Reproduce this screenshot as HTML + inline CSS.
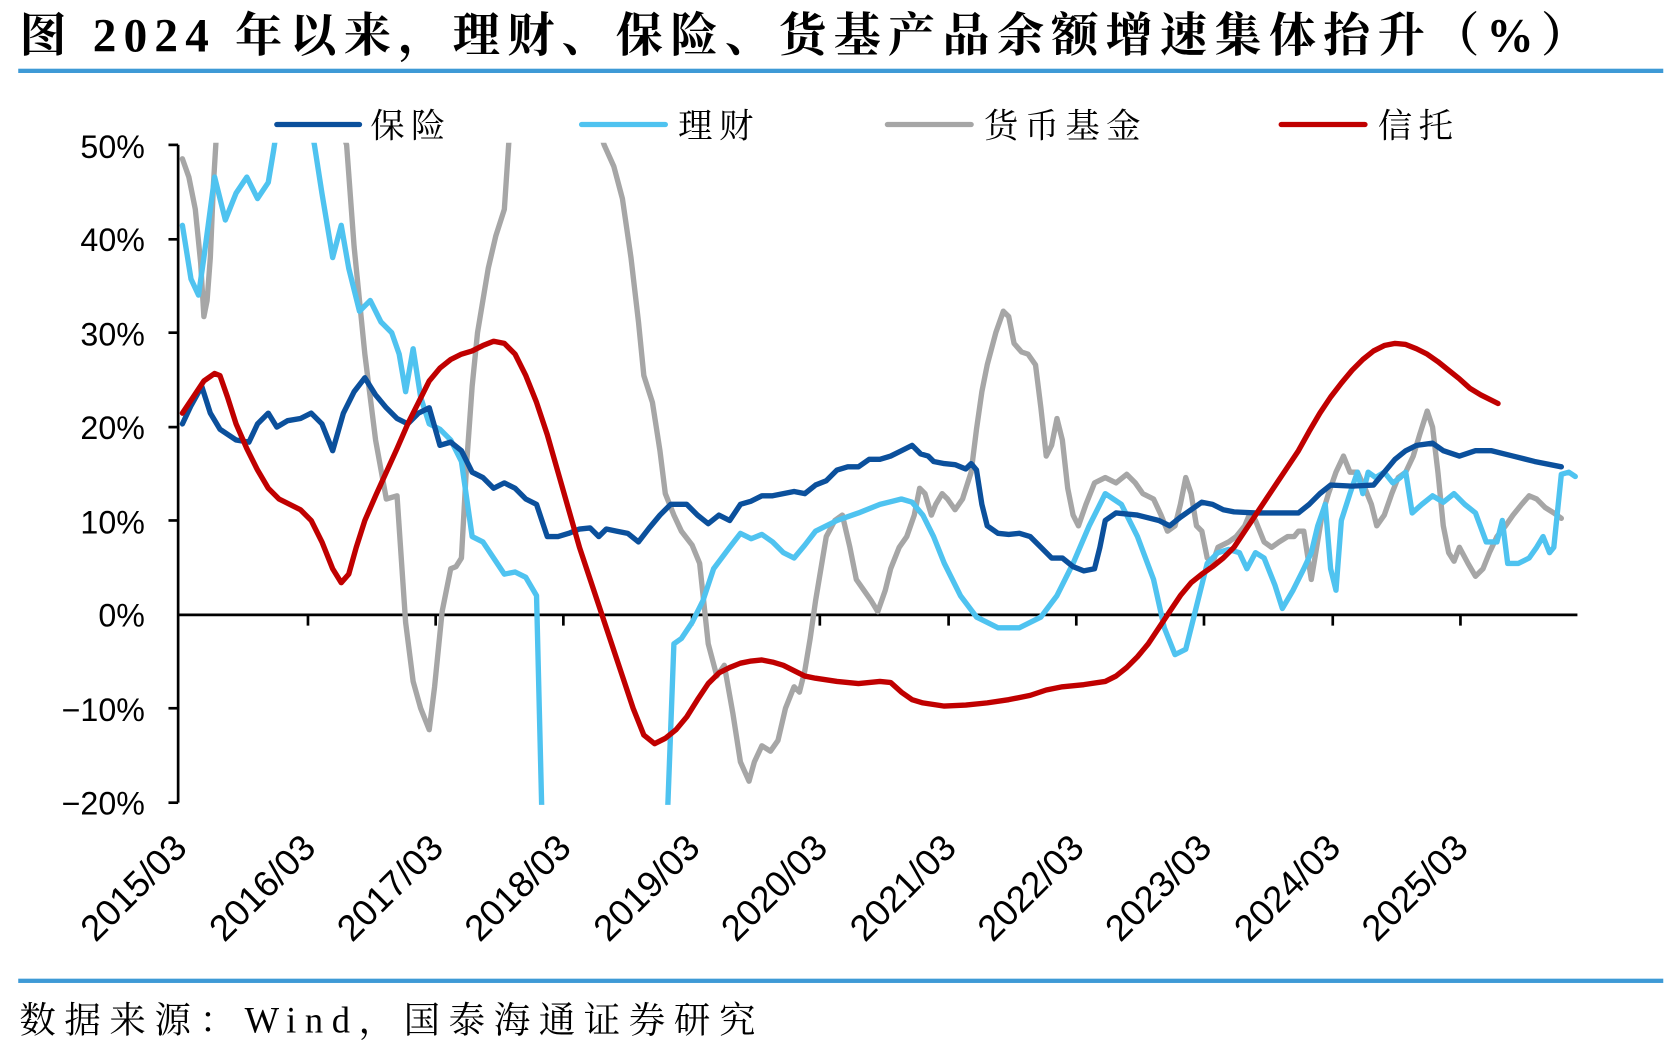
<!DOCTYPE html>
<html><head><meta charset="utf-8"><style>
html,body{margin:0;padding:0;background:#fff;width:1674px;height:1042px;overflow:hidden}
</style></head><body>
<svg width="1674" height="1042" viewBox="0 0 1560 971" xmlns="http://www.w3.org/2000/svg">
<defs><clipPath id="c"><rect x="167" y="133" width="1310" height="617"/></clipPath></defs>
<text x="18" y="48" font-family="'Liberation Serif','Noto Serif CJK SC',serif" font-weight="bold" font-size="44" textLength="1462" lengthAdjust="spacing" fill="#000">图  2024 年以来，理财、保险、货基产品余额增速集体抬升（%）</text>
<rect x="17" y="64" width="1533" height="4" fill="#3e9ad6"/>
<rect x="17" y="912" width="1533" height="4" fill="#3e9ad6"/>
<text x="18" y="962" font-family="'Liberation Serif','Noto Serif CJK SC',serif" font-size="34" textLength="686" lengthAdjust="spacing" fill="#000">数据来源：Wind，国泰海通证券研究</text>
<g font-family="'Liberation Serif','Noto Serif CJK SC',serif" font-size="32" fill="#000">
<line x1="258" y1="116" x2="335" y2="116" stroke="#0b509c" stroke-width="5" stroke-linecap="round"/><text x="345" y="128" letter-spacing="6">保险</text>
<line x1="542" y1="116" x2="620" y2="116" stroke="#4fc3f0" stroke-width="5" stroke-linecap="round"/><text x="632" y="128" letter-spacing="6">理财</text>
<line x1="827" y1="116" x2="905" y2="116" stroke="#a6a6a6" stroke-width="5" stroke-linecap="round"/><text x="917" y="128" letter-spacing="6">货币基金</text>
<line x1="1194" y1="116" x2="1272" y2="116" stroke="#c00000" stroke-width="5" stroke-linecap="round"/><text x="1284" y="128" letter-spacing="6">信托</text>
</g>
<g font-family="'Liberation Sans',sans-serif" font-size="30" fill="#000" text-anchor="end">
<text x="135" y="147">50%</text><text x="135" y="234">40%</text><text x="135" y="322">30%</text><text x="135" y="409">20%</text><text x="135" y="497">10%</text><text x="135" y="584">0%</text><text x="135" y="672">−10%</text><text x="135" y="759">−20%</text>
</g>
<g stroke="#000" stroke-width="2.5" fill="none">
<line x1="166" y1="135" x2="166" y2="748"/>
<line x1="157" y1="135" x2="166" y2="135"/><line x1="157" y1="223" x2="166" y2="223"/><line x1="157" y1="310" x2="166" y2="310"/><line x1="157" y1="398" x2="166" y2="398"/><line x1="157" y1="485" x2="166" y2="485"/><line x1="157" y1="660" x2="166" y2="660"/><line x1="157" y1="748" x2="166" y2="748"/>
<line x1="166" y1="573" x2="1470" y2="573"/>
<line x1="287" y1="573" x2="287" y2="583"/><line x1="406" y1="573" x2="406" y2="583"/><line x1="525" y1="573" x2="525" y2="583"/><line x1="645" y1="573" x2="645" y2="583"/><line x1="764" y1="573" x2="764" y2="583"/><line x1="884" y1="573" x2="884" y2="583"/><line x1="1003" y1="573" x2="1003" y2="583"/><line x1="1122" y1="573" x2="1122" y2="583"/><line x1="1242" y1="573" x2="1242" y2="583"/><line x1="1361" y1="573" x2="1361" y2="583"/>
</g>
<g font-family="'Liberation Sans',sans-serif" font-size="34" fill="#000" text-anchor="end">
<text transform="translate(176,792) rotate(-45)">2015/03</text>
<text transform="translate(296,792) rotate(-45)">2016/03</text>
<text transform="translate(415,792) rotate(-45)">2017/03</text>
<text transform="translate(534,792) rotate(-45)">2018/03</text>
<text transform="translate(654,792) rotate(-45)">2019/03</text>
<text transform="translate(773,792) rotate(-45)">2020/03</text>
<text transform="translate(893,792) rotate(-45)">2021/03</text>
<text transform="translate(1012,792) rotate(-45)">2022/03</text>
<text transform="translate(1131,792) rotate(-45)">2023/03</text>
<text transform="translate(1251,792) rotate(-45)">2024/03</text>
<text transform="translate(1370,792) rotate(-45)">2025/03</text>
</g>
<g clip-path="url(#c)" fill="none" stroke-width="5" stroke-linejoin="round" stroke-linecap="round">
<polyline stroke="#a6a6a6" points="170,148 176,165 182,195 187,245 190,295 193,280 196,240 199,170 202,120"/>
<polyline stroke="#a6a6a6" points="318,120 323,135 330,230 340,330 350,410 360,465 370,462 378,580 385,635 392,660 400,680 405,640 412,570 420,530 425,528 430,520 435,430 440,360 445,310 450,280 455,250 462,220 470,195 475,120"/>
<polyline stroke="#a6a6a6" points="558,120 563,135 572,155 580,185 588,240 595,300 600,350 608,375 615,420 620,460 628,480 635,495 645,508 652,525 660,600 668,630 675,620 683,665 690,710 698,728 703,710 710,695 718,700 725,690 732,660 740,640 745,645 750,625 755,595 760,560 765,530 770,500 778,485 785,480 792,510 798,540 805,550 812,560 818,570 825,550 830,530 838,510 845,500 852,480 857,455 862,460 868,480 872,470 878,460 883,465 890,475 897,465 905,440 910,400 915,365 920,340 928,310 935,290 940,295 945,320 952,328 958,330 965,340 970,380 975,425 980,415 985,390 990,410 995,455 1000,480 1005,490 1012,470 1020,450 1030,445 1040,450 1050,442 1058,450 1065,460 1075,465 1082,480 1088,495 1095,490 1100,470 1105,445 1110,460 1115,490 1120,495 1125,520 1130,525 1135,510 1145,505 1152,500 1160,490 1165,478 1170,485 1178,505 1185,510 1192,505 1200,500 1206,500 1210,495 1215,495 1222,540 1227,510 1232,480 1238,460 1245,440 1252,425 1258,440 1265,440 1272,455 1278,470 1283,490 1290,480 1297,460 1303,445 1310,440 1317,425 1323,405 1330,383 1335,398 1340,440 1345,490 1350,515 1355,523 1360,510 1368,525 1375,537 1382,530 1388,515 1395,500 1403,490 1410,480 1418,470 1425,462 1432,465 1440,473 1448,478 1455,483"/>
<polyline stroke="#4fc3f0" points="170,210 178,260 185,275 190,240 200,165 210,205 220,180 230,165 240,185 250,170 255,140 258,120"/>
<polyline stroke="#4fc3f0" points="290,120 293,135 300,180 310,240 318,210 325,250 335,290 345,280 355,300 365,310 372,330 378,365 385,325 392,370 400,395 410,400 420,410 430,430 440,500 450,505 460,520 470,535 480,533 490,538 500,555 505,760"/>
<polyline stroke="#4fc3f0" points="622,760 628,600 635,595 645,580 655,560 665,530 680,510 690,497 700,502 710,498 720,505 730,515 740,520 750,508 760,495 780,485 800,478 820,470 840,465 850,468 860,480 870,500 880,525 895,555 910,575 930,585 950,585 970,575 985,555 1000,525 1015,490 1030,460 1045,470 1060,500 1075,540 1085,585 1095,610 1105,605 1115,565 1125,525 1135,515 1145,512 1155,515 1162,530 1170,515 1178,520 1188,545 1195,567 1205,550 1215,530 1222,515 1228,490 1235,470 1240,530 1245,550 1250,485 1258,460 1265,440 1270,460 1275,440 1282,445 1290,440 1298,450 1305,445 1310,440 1316,478 1325,470 1335,462 1345,468 1355,460 1365,470 1375,478 1385,505 1395,505 1400,485 1405,525 1415,525 1425,520 1432,510 1438,500 1444,515 1448,510 1455,442 1462,440 1468,444"/>
<polyline stroke="#0b509c" points="170,395 178,378 188,360 196,385 205,400 220,410 232,412 240,395 250,385 258,398 268,392 280,390 290,385 300,395 310,420 320,385 330,365 340,352 350,368 360,380 370,390 380,395 390,385 400,380 410,415 420,412 430,420 440,440 450,445 460,455 470,450 480,455 490,465 500,470 510,500 520,500 530,497 540,493 550,492 558,500 565,493 575,495 585,497 595,505 605,492 615,480 625,470 640,470 650,480 660,488 670,480 680,485 690,470 700,467 710,462 720,462 730,460 740,458 750,460 760,452 770,448 780,438 790,435 800,435 810,428 820,428 830,425 840,420 850,415 858,423 865,425 870,430 880,432 890,433 900,437 905,432 910,438 915,470 920,490 930,497 940,498 950,497 960,500 970,510 980,520 990,520 1000,528 1010,532 1020,530 1025,510 1030,485 1040,478 1060,480 1080,485 1090,490 1100,482 1110,475 1120,468 1130,470 1140,475 1150,477 1170,478 1190,478 1210,478 1220,470 1230,460 1240,452 1260,453 1280,452 1290,440 1300,428 1310,420 1320,415 1335,413 1345,420 1360,425 1375,420 1390,420 1410,425 1430,430 1455,435"/>
<polyline stroke="#c00000" points="170,385 180,370 190,355 200,348 205,350 212,370 220,395 230,418 240,438 250,455 260,465 270,470 280,475 290,485 300,505 310,530 318,543 325,535 332,510 340,485 350,462 360,440 370,418 380,395 390,375 400,355 410,343 420,335 430,330 440,327 450,322 460,318 470,320 480,330 490,350 500,375 510,405 520,440 530,475 540,510 550,540 560,570 570,600 580,630 590,660 600,685 610,693 620,688 630,680 640,668 650,652 660,637 670,627 680,622 690,618 700,616 710,615 720,617 730,620 740,625 750,630 760,632 780,635 800,637 820,635 830,636 840,645 850,652 860,655 880,658 900,657 920,655 940,652 960,648 975,643 990,640 1010,638 1030,635 1040,630 1050,622 1060,612 1070,600 1080,585 1090,570 1100,555 1110,543 1120,535 1130,528 1140,520 1150,510 1160,495 1170,480 1180,465 1190,450 1200,435 1210,420 1220,402 1230,385 1240,370 1250,357 1260,345 1270,335 1280,327 1290,322 1300,320 1310,321 1320,325 1330,330 1340,337 1350,345 1360,353 1370,362 1380,368 1396,376"/>
</g>
</svg>
</body></html>
